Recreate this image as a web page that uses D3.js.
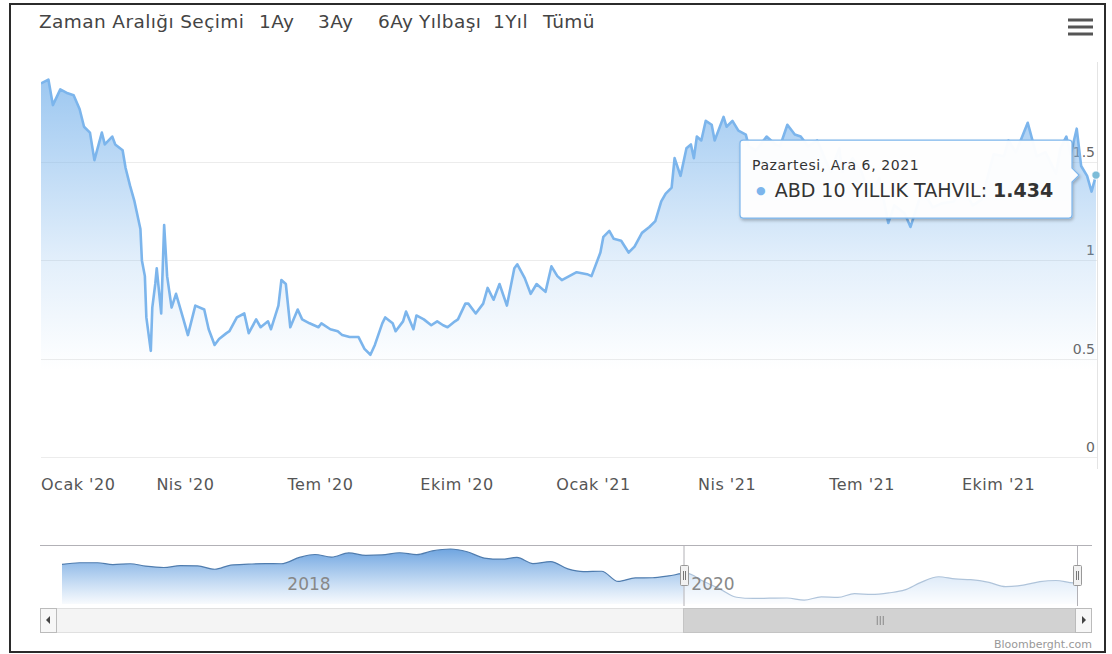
<!DOCTYPE html>
<html lang="tr">
<head>
<meta charset="utf-8">
<title>ABD 10 Yıllık Tahvil</title>
<script src="https://cdn.jsdelivr.net/npm/d3@7/dist/d3.min.js"></script>
<style>
  html, body { margin: 0; padding: 0; background: #fff; }
  svg { display: block; }
  text { font-family: "DejaVu Sans", Verdana, sans-serif; }
</style>
</head>
<body>
<svg id="chart" width="1112" height="654"></svg>
<script>
// ABD 10 yıllık tahvil getirisi (%), günlük kapanışlardan seçilmiş noktalar
const dates = [
  "2019-12-26","2019-12-31","2020-01-03","2020-01-08","2020-01-13","2020-01-17","2020-01-21","2020-01-24",
  "2020-01-28","2020-01-31","2020-02-05","2020-02-07","2020-02-12","2020-02-14","2020-02-19","2020-02-21",
  "2020-02-24","2020-02-27","2020-03-02","2020-03-03","2020-03-05","2020-03-06","2020-03-09","2020-03-10",
  "2020-03-12","2020-03-13","2020-03-16","2020-03-18","2020-03-20","2020-03-23","2020-03-26","2020-03-31",
  "2020-04-03","2020-04-08","2020-04-14","2020-04-17","2020-04-21","2020-04-24","2020-04-29","2020-05-01",
  "2020-05-06","2020-05-11","2020-05-14","2020-05-19","2020-05-22","2020-05-27","2020-05-29","2020-06-03",
  "2020-06-05","2020-06-08","2020-06-11","2020-06-16","2020-06-19","2020-06-24","2020-06-30","2020-07-02",
  "2020-07-08","2020-07-13","2020-07-16","2020-07-21","2020-07-27","2020-07-31","2020-08-04","2020-08-07",
  "2020-08-12","2020-08-14","2020-08-19","2020-08-21","2020-08-26","2020-08-28","2020-09-02","2020-09-04",
  "2020-09-09","2020-09-14","2020-09-18","2020-09-22","2020-09-25","2020-09-30","2020-10-02","2020-10-07",
  "2020-10-09","2020-10-14","2020-10-19","2020-10-22","2020-10-26","2020-10-30","2020-11-04","2020-11-09",
  "2020-11-11","2020-11-16","2020-11-20","2020-11-24","2020-11-30","2020-12-04","2020-12-08","2020-12-11",
  "2020-12-16","2020-12-21","2020-12-28","2020-12-31","2021-01-06","2021-01-08","2021-01-12","2021-01-15",
  "2021-01-20","2021-01-25","2021-01-29","2021-02-03","2021-02-08","2021-02-12","2021-02-16","2021-02-19",
  "2021-02-23","2021-02-25","2021-03-01","2021-03-05","2021-03-08","2021-03-10","2021-03-12","2021-03-15",
  "2021-03-18","2021-03-22","2021-03-24","2021-03-30","2021-04-01","2021-04-05","2021-04-09","2021-04-14",
  "2021-04-16","2021-04-21","2021-04-28","2021-05-04","2021-05-07","2021-05-12","2021-05-17","2021-05-21",
  "2021-05-26","2021-06-01","2021-06-04","2021-06-10","2021-06-16","2021-06-18","2021-06-25","2021-07-01",
  "2021-07-07","2021-07-13","2021-07-19","2021-07-23","2021-07-30","2021-08-03","2021-08-11","2021-08-18",
  "2021-08-24","2021-09-01","2021-09-07","2021-09-14","2021-09-20","2021-09-28","2021-10-05","2021-10-08",
  "2021-10-13","2021-10-21","2021-10-27","2021-11-02","2021-11-04","2021-11-09","2021-11-12","2021-11-16",
  "2021-11-19","2021-11-23","2021-11-26","2021-11-30","2021-12-03","2021-12-06"
];
const yields = [
  1.90,1.92,1.79,1.87,1.85,1.84,1.77,1.68,
  1.65,1.51,1.65,1.59,1.63,1.59,1.56,1.47,
  1.38,1.30,1.16,1.00,0.92,0.71,0.54,0.76,
  0.88,0.96,0.73,1.18,0.92,0.76,0.83,0.70,
  0.62,0.77,0.75,0.65,0.57,0.60,0.63,0.64,
  0.71,0.73,0.63,0.70,0.66,0.69,0.65,0.77,
  0.90,0.88,0.66,0.75,0.70,0.68,0.66,0.68,
  0.65,0.64,0.62,0.61,0.61,0.55,0.52,0.57,
  0.68,0.71,0.68,0.64,0.69,0.74,0.65,0.72,
  0.70,0.67,0.69,0.67,0.66,0.69,0.70,0.78,
  0.78,0.73,0.78,0.86,0.80,0.88,0.77,0.96,
  0.98,0.91,0.83,0.88,0.84,0.97,0.92,0.90,
  0.92,0.94,0.93,0.92,1.04,1.12,1.15,1.11,
  1.10,1.04,1.07,1.14,1.17,1.20,1.30,1.34,
  1.37,1.52,1.43,1.57,1.59,1.52,1.63,1.61,
  1.71,1.69,1.61,1.73,1.68,1.71,1.66,1.64,
  1.58,1.56,1.63,1.59,1.58,1.69,1.64,1.63,
  1.58,1.61,1.56,1.45,1.57,1.45,1.52,1.45,
  1.32,1.42,1.19,1.28,1.24,1.17,1.36,1.27,
  1.29,1.30,1.37,1.28,1.31,1.54,1.53,1.61,
  1.55,1.70,1.53,1.55,1.52,1.44,1.57,1.63,
  1.54,1.67,1.48,1.43,1.35,1.434
];

// Alt gezinme çubuğu: aylık seri (Kasım 2016 – Aralık 2021)
const navDates = [
  "2016-11-28","2016-12-30","2017-01-31","2017-02-28","2017-03-31","2017-04-28","2017-05-31","2017-06-30",
  "2017-07-31","2017-08-31","2017-09-29","2017-10-31","2017-11-30","2017-12-29","2018-01-31","2018-02-28",
  "2018-03-30","2018-04-30","2018-05-31","2018-06-29","2018-07-31","2018-08-31","2018-09-28","2018-10-31",
  "2018-11-30","2018-12-31","2019-01-31","2019-02-28","2019-03-29","2019-04-30","2019-05-31","2019-06-28",
  "2019-07-31","2019-08-30","2019-09-30","2019-10-31","2019-11-29","2019-12-31","2020-01-31","2020-02-28",
  "2020-03-31","2020-04-30","2020-05-29","2020-06-30","2020-07-31","2020-08-31","2020-09-30","2020-10-30",
  "2020-11-30","2020-12-31","2021-01-29","2021-02-26","2021-03-31","2021-04-30","2021-05-28","2021-06-30",
  "2021-07-30","2021-08-31","2021-09-30","2021-10-29","2021-11-30","2021-12-06"
];
const navYields = [
  2.37,2.45,2.45,2.36,2.40,2.28,2.21,2.30,
  2.29,2.12,2.33,2.38,2.41,2.40,2.72,2.87,
  2.74,2.95,2.83,2.85,2.96,2.86,3.05,3.15,
  3.01,2.69,2.63,2.72,2.41,2.51,2.14,2.00,
  2.02,1.50,1.68,1.69,1.78,1.92,1.51,1.15,
  0.70,0.64,0.65,0.66,0.55,0.72,0.69,0.88,
  0.84,0.92,1.07,1.44,1.74,1.63,1.59,1.45,
  1.24,1.31,1.49,1.55,1.43,1.434
];

const yTicks = [0, 0.5, 1, 1.5];
const monthNames = ["Ocak","Şub","Mart","Nis","May","Haz","Tem","Ağu","Eyl","Ekim","Kas","Ara"];
const dayNames = ["Pazar","Pazartesi","Salı","Çarşamba","Perşembe","Cuma","Cumartesi"];
const rangeButtons = ["1Ay","3Ay","6Ay","Yılbaşı","1Yıl","Tümü"];
const seriesName = "ABD 10 YILLIK TAHVIL";

const parse = d3.timeParse("%Y-%m-%d");
const series = dates.map((d, i) => ({ date: parse(d), value: yields[i] }));
const navSeries = navDates.map((d, i) => ({ date: parse(d), value: navYields[i] }));

const svg = d3.select("#chart");
const W = 1112, H = 654;
const plot = { left: 41, right: 1097, top: 62, bottom: 457 };
const lineColor = "#7cb5ec";

const defs = svg.append("defs");
const areaGrad = defs.append("linearGradient").attr("id", "areaGrad")
  .attr("gradientUnits", "userSpaceOnUse").attr("x1", 0).attr("x2", 0)
  .attr("y1", plot.top).attr("y2", plot.bottom);
areaGrad.append("stop").attr("offset", 0).attr("stop-color", lineColor).attr("stop-opacity", 0.8);
areaGrad.append("stop").attr("offset", 0.5).attr("stop-color", lineColor).attr("stop-opacity", 0.22);
areaGrad.append("stop").attr("offset", 0.78).attr("stop-color", lineColor).attr("stop-opacity", 0);

const navGrad = defs.append("linearGradient").attr("id", "navGrad")
  .attr("gradientUnits", "userSpaceOnUse").attr("x1", 0).attr("x2", 0)
  .attr("y1", 546).attr("y2", 604);
navGrad.append("stop").attr("offset", 0).attr("stop-color", "#5f9bdd").attr("stop-opacity", 0.95);
navGrad.append("stop").attr("offset", 1).attr("stop-color", "#6fa6e2").attr("stop-opacity", 0.05);

const shadow = defs.append("filter").attr("id", "tipShadow")
  .attr("x", "-10%").attr("y", "-20%").attr("width", "130%").attr("height", "150%");
shadow.append("feDropShadow").attr("dx", 1).attr("dy", 2).attr("stdDeviation", 1.6)
  .attr("flood-color", "#000").attr("flood-opacity", 0.25);

defs.append("clipPath").attr("id", "plotClip").append("rect")
  .attr("x", plot.left).attr("y", plot.top - 10)
  .attr("width", plot.right - plot.left).attr("height", plot.bottom - plot.top + 10);

// Dış çerçeve
svg.append("rect").attr("x", 0).attr("y", 0).attr("width", W).attr("height", H).attr("fill", "#fff");
svg.append("rect").attr("x", 10).attr("y", 4).attr("width", 1095).attr("height", 648)
  .attr("fill", "none").attr("stroke", "#2b2b2b").attr("stroke-width", 2);

// Zaman aralığı seçici
const rs = svg.append("g").attr("class", "range-selector")
  .attr("font-family", "'Open Sans', sans-serif").attr("font-size", 18.5)
  .attr("letter-spacing", 0.4).attr("fill", "#444");
rs.append("text").attr("x", 39).attr("y", 28).text("Zaman Aralığı Seçimi");
const btnX = [259, 318, 378, 419, 493, 543];
rangeButtons.forEach((b, i) => rs.append("text").attr("x", btnX[i]).attr("y", 28).text(b));

// Menü simgesi
const menu = svg.append("g").attr("fill", "#555");
[20, 27, 34].forEach(y => menu.append("rect").attr("x", 1068).attr("y", y - 1.5)
  .attr("width", 25).attr("height", 3));

// Ölçekler
const x = d3.scaleTime()
  .domain([series[0].date, series[series.length - 1].date])
  .range([plot.left, plot.right - 1]);
const y = d3.scaleLinear().domain([0, 2]).range([plot.bottom, plot.bottom - 2 * 196.6]);

// Yatay ızgara çizgileri
svg.append("g").selectAll("line").data(yTicks).join("line")
  .attr("x1", plot.left).attr("x2", plot.right)
  .attr("y1", d => Math.round(y(d)) + 0.5).attr("y2", d => Math.round(y(d)) + 0.5)
  .attr("stroke", "#ececec").attr("stroke-width", 1);
svg.append("line").attr("x1", plot.right + 0.5).attr("x2", plot.right + 0.5)
  .attr("y1", plot.top).attr("y2", plot.bottom + 12).attr("stroke", "#e4e4e4");

// Y ekseni etiketleri (sağda, çizginin üstünde)
svg.append("g").selectAll("text").data(yTicks).join("text")
  .attr("x", plot.right - 2).attr("y", d => y(d) - 5)
  .attr("text-anchor", "end").attr("font-size", 14).attr("fill", "#666")
  .text(d => d3.format("~g")(d));

// Alan ve çizgi
const g = svg.append("g").attr("clip-path", "url(#plotClip)");
g.append("path").datum(series)
  .attr("d", d3.area().x(d => x(d.date)).y0(plot.bottom).y1(d => y(d.value)))
  .attr("fill", "url(#areaGrad)");
g.append("path").datum(series)
  .attr("d", d3.line().x(d => x(d.date)).y(d => y(d.value)))
  .attr("fill", "none").attr("stroke", lineColor).attr("stroke-width", 2.6)
  .attr("stroke-linejoin", "round");

// X ekseni (çeyrek başları)
const fmtTick = d => `${monthNames[d.getMonth()]} '${String(d.getFullYear()).slice(2)}`;
const xAxis = d3.axisBottom(x).ticks(d3.timeMonth.every(3)).tickFormat(fmtTick).tickSize(0).tickPadding(0);
const xg = svg.append("g").attr("transform", `translate(0, 484)`).call(xAxis);
xg.select(".domain").remove();
xg.selectAll("text").attr("font-size", 16).attr("letter-spacing", 0.5).attr("fill", "#555")
  .attr("font-family", "'DejaVu Sans', sans-serif").attr("dy", "0.35em");
xg.selectAll(".tick text").each(function () {
  const bb = this.getBBox();
  const tx = +d3.select(this.parentNode).attr("transform").match(/translate\(([-\d.]+)/)[1];
  if (tx + bb.x < plot.left) d3.select(this).attr("text-anchor", "start").attr("x", plot.left - tx);
});

// Araç ipucu
const last = series[series.length - 1];
const px = x(last.date), py = y(last.value);
const tip = svg.append("g").attr("filter", "url(#tipShadow)");
const bx0 = px - 356, bx1 = px - 24, by0 = py - 35, by1 = py + 43;
const r = 3;
tip.append("path")
  .attr("d", `M${bx0 + r},${by0} L${bx1 - r},${by0} Q${bx1},${by0} ${bx1},${by0 + r}
    L${bx1},${py - 7} L${bx1 + 7},${py} L${bx1},${py + 7}
    L${bx1},${by1 - r} Q${bx1},${by1} ${bx1 - r},${by1}
    L${bx0 + r},${by1} Q${bx0},${by1} ${bx0},${by1 - r}
    L${bx0},${by0 + r} Q${bx0},${by0} ${bx0 + r},${by0} Z`)
  .attr("fill", "rgba(255,255,255,0.96)").attr("stroke", lineColor).attr("stroke-width", 1.2);
const fmtDay = d => `${dayNames[d.getDay()]}, ${monthNames[d.getMonth()].slice(0,3)} ${d.getDate()}, ${d.getFullYear()}`;
svg.append("text").attr("x", bx0 + 12).attr("y", by0 + 30)
  .attr("font-size", 14).attr("letter-spacing", 0.6).attr("fill", "#333").text(fmtDay(last.date));
const t2 = svg.append("text").attr("x", bx0 + 16).attr("y", by0 + 57).attr("font-size", 19).attr("fill", "#333");
t2.append("tspan").attr("fill", lineColor).attr("font-size", 11).attr("dy", -3).text("●");
t2.append("tspan").attr("dx", 3).attr("dy", 3).text(` ${seriesName}: `);
t2.append("tspan").attr("font-weight", "bold").text(d3.format(".3f")(last.value));

// Seçili nokta
svg.append("circle").attr("cx", px).attr("cy", py).attr("r", 4.2)
  .attr("fill", "#7cbcd8").attr("stroke", "#fff").attr("stroke-width", 1);

// Gezinme çubuğu
const nx = d3.scaleTime().domain([navSeries[0].date, navSeries[navSeries.length - 1].date]).range([62, 1077]);
const ny = d3.scaleLinear().domain([0, 3.2]).range([611, 548]);
const nav = svg.append("g");
nav.append("path").datum(navSeries)
  .attr("d", d3.area().curve(d3.curveMonotoneX).x(d => nx(d.date)).y0(604).y1(d => ny(d.value)))
  .attr("fill", "url(#navGrad)");
nav.append("path").datum(navSeries)
  .attr("d", d3.line().curve(d3.curveMonotoneX).x(d => nx(d.date)).y(d => ny(d.value)))
  .attr("fill", "none").attr("stroke", "#4f7cae").attr("stroke-width", 1.2);

const selL = nx(series[0].date), selR = nx(last.date);
nav.append("rect").attr("x", selL).attr("y", 546).attr("width", selR - selL).attr("height", 60)
  .attr("fill", "rgba(255,255,255,0.55)");
nav.append("path")
  .attr("d", `M40,545.5 L1092,545.5 M${selL + 0.5},545 L${selL + 0.5},606 M${selR + 0.5},545 L${selR + 0.5},606`)
  .attr("stroke", "#b2b1b6").attr("fill", "none");

const navAxis = d3.axisBottom(nx).ticks(d3.timeYear.every(2)).tickFormat(d3.timeFormat("%Y")).tickSize(0);
const nag = svg.append("g").attr("transform", "translate(0, 587)").call(navAxis);
nag.select(".domain").remove();
nag.selectAll("text").attr("text-anchor", "start").attr("x", 4).attr("dy", 0)
  .attr("font-size", 17).attr("fill", "#888").attr("font-family", "'DejaVu Sans', sans-serif");

// Tutamaçlar
[selL, selR].forEach(hx => {
  const h = nav.append("g").attr("transform", `translate(${Math.round(hx) - 4},565)`);
  h.append("rect").attr("x", 0.5).attr("y", 0.5).attr("width", 8).attr("height", 20).attr("rx", 1)
    .attr("fill", "#f2f2f2").attr("stroke", "#999");
  h.append("path").attr("d", "M3.5,6 L3.5,15 M5.5,6 L5.5,15").attr("stroke", "#777");
});

// Kaydırma çubuğu
const sb = svg.append("g");
sb.append("rect").attr("x", 40.5).attr("y", 608.5).attr("width", 1051).attr("height", 24)
  .attr("fill", "#f4f4f4").attr("stroke", "#e0e0e0");
sb.append("rect").attr("x", selL).attr("y", 608.5).attr("width", selR - selL).attr("height", 24)
  .attr("fill", "#d2d2d2").attr("stroke", "#c4c4c4");
sb.append("path").attr("d", `M${(selL + selR) / 2 - 3},616 l0,9 M${(selL + selR) / 2},616 l0,9 M${(selL + selR) / 2 + 3},616 l0,9`)
  .attr("stroke", "#888");
[[40.5, "M50,616 l-4,4 l4,4 Z"], [1075.5, "M1082,616 l4,4 l-4,4 Z"]].forEach(([bx, arrow]) => {
  sb.append("rect").attr("x", bx).attr("y", 608.5).attr("width", 16).attr("height", 24)
    .attr("fill", "#f7f7f7").attr("stroke", "#bbb");
  sb.append("path").attr("d", arrow).attr("fill", "#444");
});

// Kaynak
svg.append("text").attr("x", 1092).attr("y", 648).attr("text-anchor", "end")
  .attr("font-size", 11).attr("fill", "#999").text("Bloomberght.com");
</script>
</body>
</html>
